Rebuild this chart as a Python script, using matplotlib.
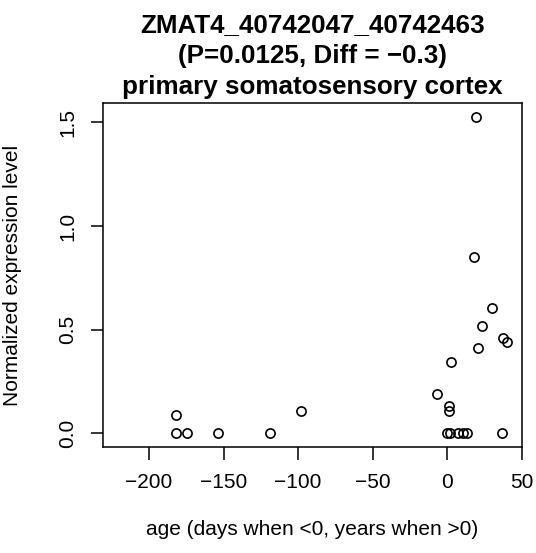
import matplotlib
matplotlib.use("Agg")
import matplotlib.pyplot as plt

plt.rcParams['font.family'] = ['Liberation Sans', 'DejaVu Sans']

# age (days when <0, years when >0) and normalized expression
age = [-181.9, -181.9, -174.7, -153.9, -118.8, -98.3,
       19.1, 18.2, 30.3, 23.6, 37.2, 39.9, 20.9, 2.8, -7.0, 1.2, 1.2,
       -0.3, 1.9, 7.4, 10.8, 13.5, 36.6]
expr = [0.088, 0.0, 0.0, 0.0, 0.0, 0.109,
        1.527, 0.852, 0.603, 0.519, 0.458, 0.439, 0.410, 0.342, 0.188, 0.132, 0.109,
        0.0, 0.0, 0.0, 0.0, 0.0, 0.0]

xticks = [-200, -150, -100, -50, 0, 50]
yticks = [0.0, 0.5, 1.0, 1.5]

title = "ZMAT4_40742047_40742463\n(P=0.0125, Diff = \u22120.3)\nprimary somatosensory cortex"

fig = plt.figure(figsize=(5.36, 5.53), dpi=100)
ax = fig.add_axes([0.1927, 0.1922, 0.7806, 0.621])

ax.plot(age, expr, linestyle='none', marker='o', markersize=6.6,
        markerfacecolor='none', markeredgecolor='black', markeredgewidth=1.2)

ax.set_xlim(-230.7, 50)
ax.set_ylim(-0.0646, 1.592)
ax.set_xticks(xticks)
ax.set_xticklabels([str(t).replace('-', '\u2212') for t in xticks])
ax.set_yticks(yticks)
ax.set_yticklabels([f"{t:.1f}" for t in yticks], rotation=90, va='center')
ax.tick_params(labelsize=15, length=9, width=1.1, direction='out', pad=10)
for s in ax.spines.values():
    s.set_linewidth(1.1)

ax.set_xlabel("age (days when <0, years when >0)", fontsize=15, labelpad=20)
ax.set_ylabel("Normalized expression level", fontsize=15, labelpad=26)
ax.set_title(title, fontsize=18.7, fontweight='bold', linespacing=1.35, pad=7)

fig.savefig("out.png", dpi=100)
